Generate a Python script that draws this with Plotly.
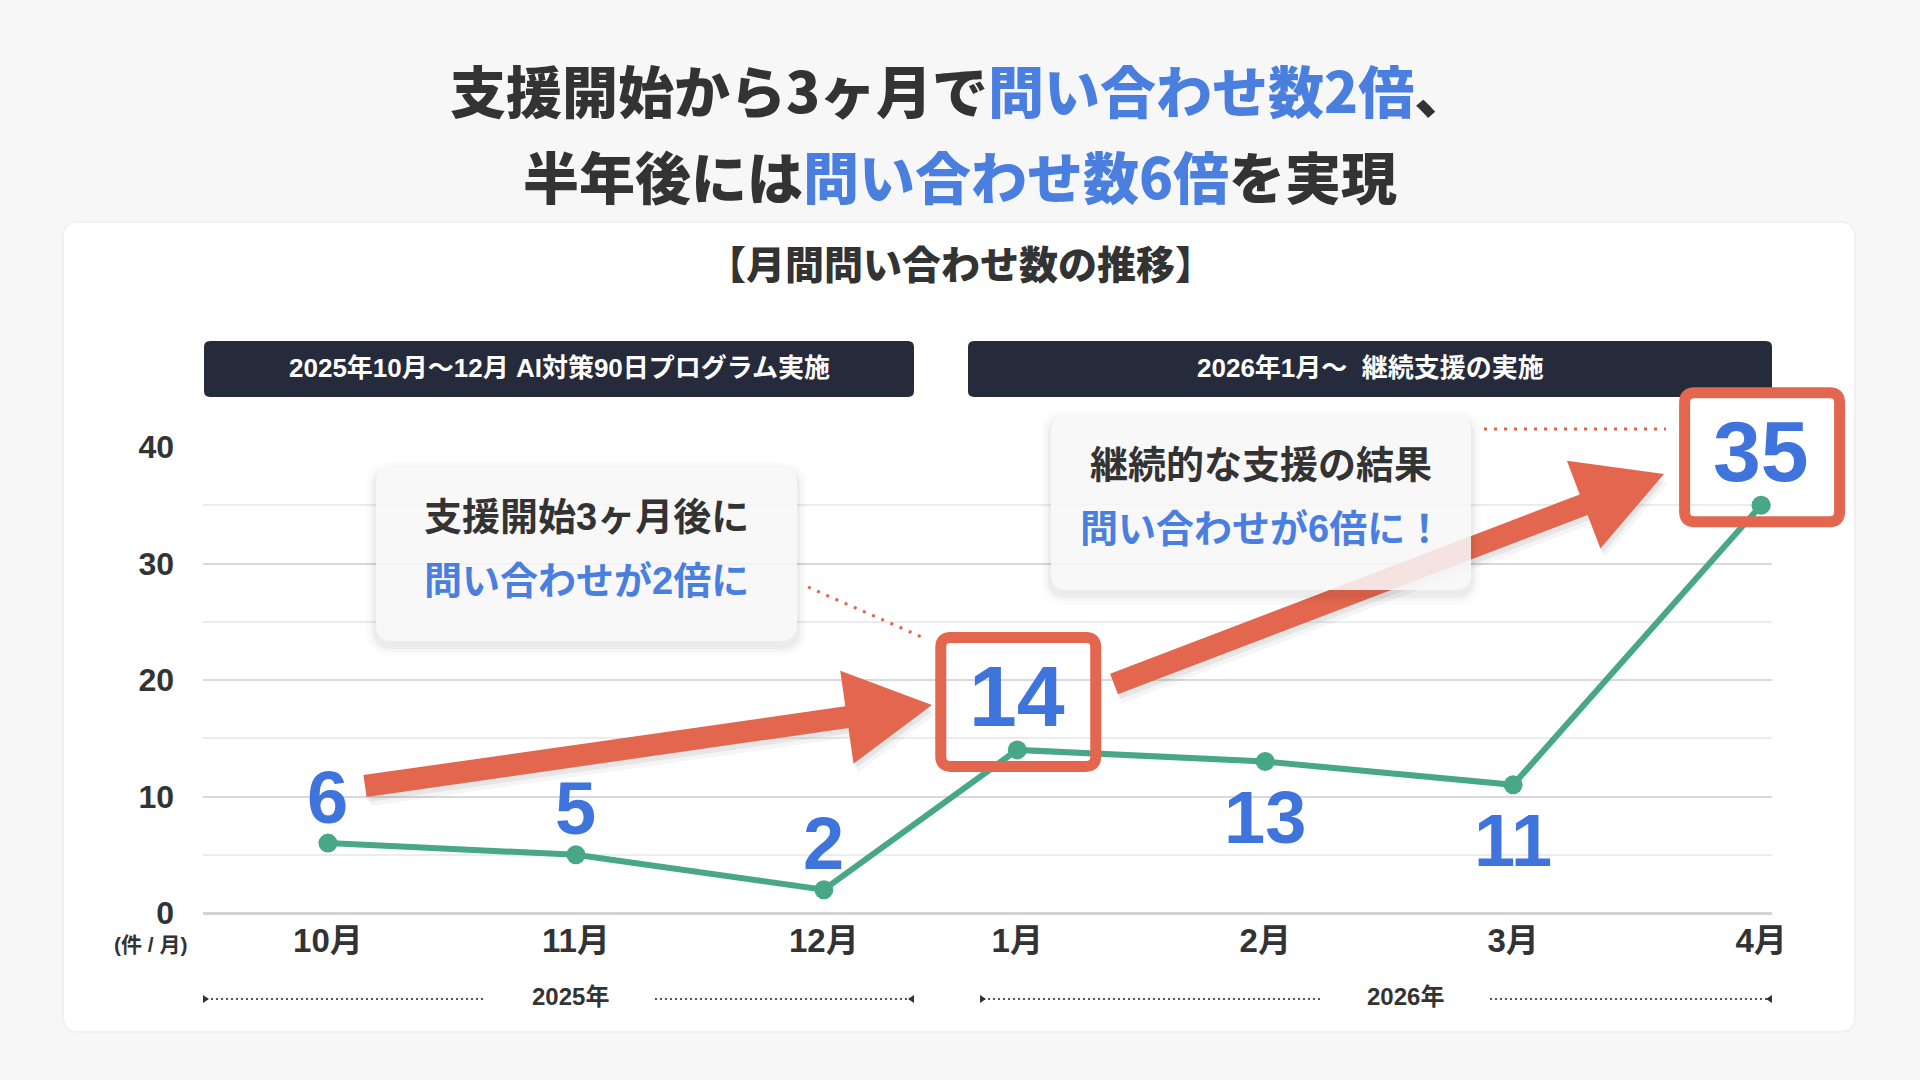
import math
import plotly.graph_objects as go

# ---------------- data ----------------
months = ["10月", "11月", "12月", "1月", "2月", "3月", "4月"]
years = [2025, 2025, 2025, 2026, 2026, 2026, 2026]
inquiries = [6, 5, 2, 14, 13, 11, 35]
y_tick_values = [0, 10, 20, 30, 40]
period_labels = ["2025年10月〜12月 AI対策90日プログラム実施", "2026年1月〜  継続支援の実施"]
year_labels = ["2025年", "2026年"]

# ---------------- layout constants ----------------
W, H = 1920, 1080
YEAR_GAP = -0.22
X_DOMAIN_PX = (203, 1772)
Y_DOMAIN_PX = (913, 447)
X_RANGE = (-0.504, 5.824)
Y_RANGE = (0, 40)

BG = "#f7f7f8"
DARK = "#333333"
BLUE = "#4a7fdf"
NUM_BLUE = "#3f74dc"
RED = "#e3674f"
GREEN = "#47a786"
NAVY = "#262b3b"
CJK = "Noto Sans CJK JP"
NUMF = "Liberation Sans, Noto Sans CJK JP"

xs = [i + (YEAR_GAP if y == 2026 else 0) for i, y in enumerate(years)]


def xpx(v):
    return X_DOMAIN_PX[0] + (v - X_RANGE[0]) / (X_RANGE[1] - X_RANGE[0]) * (X_DOMAIN_PX[1] - X_DOMAIN_PX[0])


def ypx(v):
    return Y_DOMAIN_PX[0] + (v - Y_RANGE[0]) / (Y_RANGE[1] - Y_RANGE[0]) * (Y_DOMAIN_PX[1] - Y_DOMAIN_PX[0])


def P(x, y):
    return f"{x / W:.5f},{1 - y / H:.5f}"


def rrect(x0, y0, x1, y1, r):
    return (f"M {P(x0 + r, y0)} L {P(x1 - r, y0)} Q {P(x1, y0)} {P(x1, y0 + r)} "
            f"L {P(x1, y1 - r)} Q {P(x1, y1)} {P(x1 - r, y1)} L {P(x0 + r, y1)} "
            f"Q {P(x0, y1)} {P(x0, y1 - r)} L {P(x0, y0 + r)} Q {P(x0, y0)} {P(x0 + r, y0)} Z")


def poly(pts):
    return "M " + " L ".join(P(x, y) for x, y in pts) + " Z"


def arrow_pts(x0, y0, x1, y1, shaft=22, head_len=86, head_w=94):
    dx, dy = x1 - x0, y1 - y0
    L = math.hypot(dx, dy)
    ux, uy = dx / L, dy / L
    px, py = -uy, ux
    bx, by = x1 - ux * head_len, y1 - uy * head_len
    s, h = shaft / 2, head_w / 2
    return [(x0 + px * s, y0 + py * s), (bx + px * s, by + py * s), (bx + px * h, by + py * h),
            (x1, y1), (bx - px * h, by - py * h), (bx - px * s, by - py * s), (x0 - px * s, y0 - py * s)]


fig = go.Figure()
fig.add_trace(go.Scatter(
    x=xs, y=inquiries, mode="lines+markers",
    line=dict(color=GREEN, width=6),
    marker=dict(color=GREEN, size=19),
    cliponaxis=False, hoverinfo="skip", showlegend=False,
))

shapes = []
annotations = []

# card
shapes.append(dict(type="path", layer="below",
                   path=rrect(62, 221, 1856, 1033, 16), fillcolor="rgba(0,0,0,0.025)", line=dict(width=0)))
shapes.append(dict(type="path", layer="below",
                   path=rrect(64, 223, 1854, 1031, 14), fillcolor="#ffffff", line=dict(width=0)))


def blue(t):
    return f'<span style="color:{BLUE}">{t}</span>'


# title
annotations.append(dict(x=960 / W, y=1 - 88 / H, text="支援開始から3ヶ月で" + blue("問い合わせ数2倍") + "、",
                        font=dict(family=CJK, size=56, color=DARK, weight=900)))
annotations.append(dict(x=960 / W, y=1 - 175 / H, text="半年後には" + blue("問い合わせ数6倍") + "を実現",
                        font=dict(family=CJK, size=56, color=DARK, weight=900)))
annotations.append(dict(x=960 / W, y=1 - 262 / H, text="【月間問い合わせ数の推移】",
                        font=dict(family=CJK, size=39, color=DARK, weight=900)))

# period banners
banners = [(204, 914), (968, 1772)]
for (bx0, bx1), lab in zip(banners, period_labels):
    shapes.append(dict(type="path", layer="above",
                       path=rrect(bx0, 341, bx1, 397, 6), fillcolor=NAVY, line=dict(width=0)))
    annotations.append(dict(x=(bx0 + bx1) / 2 / W, y=1 - 368 / H, text=f"<b>{lab}</b>",
                            font=dict(family=NUMF, size=26, color="#ffffff")))

# arrows (with faint shadow)
arrows = [((365, 786), (932, 705)), ((1114, 684), (1664, 474))]
for (a0, a1) in arrows:
    for off, alpha in [((2, 5), 0.06), ((4, 9), 0.04)]:
        pts = arrow_pts(a0[0] + off[0], a0[1] + off[1], a1[0] + off[0], a1[1] + off[1])
        shapes.append(dict(type="path", layer="above",
                           path=poly(pts), fillcolor=f"rgba(0,0,0,{alpha})", line=dict(width=0)))
    shapes.append(dict(type="path", layer="above",
                       path=poly(arrow_pts(a0[0], a0[1], a1[0], a1[1])), fillcolor=RED, line=dict(width=0)))

# dotted connectors
for (p0, p1) in [((808, 587), (924, 638)), ((1484, 429), (1666, 429))]:
    shapes.append(dict(type="line", layer="above",
                       x0=p0[0] / W, y0=1 - p0[1] / H, x1=p1[0] / W, y1=1 - p1[1] / H,
                       line=dict(color=RED, width=3, dash="3px,7px")))

# callouts
callouts = [((376, 467, 797, 641), ["支援開始3ヶ月後に", "問い合わせが2倍に"]),
            ((1051, 415, 1471, 590), ["継続的な支援の結果", "問い合わせが6倍に！"])]
for (cx0, cy0, cx1, cy1), lines in callouts:
    for g, alpha in [(10, 0.015), (6, 0.025), (3, 0.035)]:
        shapes.append(dict(type="path", layer="above",
                           path=rrect(cx0 - g, cy0 - g + 5, cx1 + g, cy1 + g + 5, 16 + g),
                           fillcolor=f"rgba(0,0,0,{alpha})", line=dict(width=0)))
    shapes.append(dict(type="path", layer="above",
                       path=rrect(cx0, cy0, cx1, cy1, 16), fillcolor="rgba(249,249,250,0.86)",
                       line=dict(width=0)))
    cxm = (cx0 + cx1) / 2
    annotations.append(dict(x=cxm / W, y=1 - (cy0 + 50) / H, text=f"<b>{lines[0]}</b>",
                            font=dict(family=NUMF, size=38, color=DARK)))
    annotations.append(dict(x=cxm / W, y=1 - (cy0 + 114) / H, text=f"<b>{lines[1]}</b>",
                            font=dict(family=NUMF, size=38, color=BLUE)))

# data labels
label_mode = ["above", "above", "above", "box", "below", "below", "box"]
for xv, v, mode in zip(xs, inquiries, label_mode):
    if mode == "box":
        cx, cy = xpx(xv) + 1, ypx(v) - 48
        hw, hh, sw = 83, 70, 11
        shapes.append(dict(type="path", layer="above",
                           path=rrect(cx - hw + sw / 2, cy - hh + sw / 2, cx + hw - sw / 2, cy + hh - sw / 2, 10),
                           fillcolor="rgba(0,0,0,0)", line=dict(color=RED, width=sw)))
        annotations.append(dict(x=xv, y=v, xref="x", yref="y", yshift=54, text=f"<b>{v}</b>",
                                font=dict(family=NUMF, size=86, color=NUM_BLUE)))
    else:
        shift = 46 if mode == "above" else -56
        annotations.append(dict(x=xv, y=v, xref="x", yref="y", yshift=shift, text=f"<b>{v}</b>",
                                font=dict(family=NUMF, size=74, color=NUM_BLUE)))

# unit label
annotations.append(dict(x=151 / W, y=1 - 944 / H, text="<b>(件 / 月)</b>",
                        font=dict(family=NUMF, size=21, color=DARK)))

# year brackets
year_groups = [(203, 914, 570), (980, 1772, 1405)]
for (gx0, gx1, cxm), lab in zip(year_groups, year_labels):
    half_gap = 85
    yb = 999
    for (s0, s1) in [(gx0 + 3, cxm - half_gap), (cxm + half_gap, gx1 - 3)]:
        shapes.append(dict(type="line", layer="above",
                           x0=s0 / W, y0=1 - yb / H, x1=s1 / W, y1=1 - yb / H,
                           line=dict(color="#555555", width=2, dash="2px,3px")))
    shapes.append(dict(type="path", layer="above",
                       path=poly([(gx0, yb - 4), (gx0 + 6, yb), (gx0, yb + 4)]), fillcolor="#333", line=dict(width=0)))
    shapes.append(dict(type="path", layer="above",
                       path=poly([(gx1, yb - 4), (gx1 - 6, yb), (gx1, yb + 4)]), fillcolor="#333", line=dict(width=0)))
    annotations.append(dict(x=cxm / W, y=1 - 996 / H, text=f"<b>{lab}</b>",
                            font=dict(family=NUMF, size=24, color=DARK)))

for s in shapes:
    s.setdefault("xref", "paper")
    s.setdefault("yref", "paper")
    fig.add_shape(**s)
for a in annotations:
    a.setdefault("xref", "paper")
    a.setdefault("yref", "paper")
    a.setdefault("showarrow", False)
    a.setdefault("xanchor", "center")
    a.setdefault("yanchor", "middle")
    fig.add_annotation(**a)

fig.update_layout(
    width=W, height=H, autosize=False,
    margin=dict(l=0, r=0, t=0, b=0, pad=0, autoexpand=False),
    paper_bgcolor=BG, plot_bgcolor="rgba(0,0,0,0)",
    showlegend=False,
    xaxis=dict(domain=[X_DOMAIN_PX[0] / W, X_DOMAIN_PX[1] / W], range=list(X_RANGE),
               tickvals=xs, ticktext=[f"<b>{m}</b>" for m in months],
               tickfont=dict(family=NUMF, size=33, color=DARK),
               showgrid=False, zeroline=False, showline=False, ticks="", ticklabelstandoff=5,
               automargin=False, fixedrange=True),
    yaxis=dict(domain=[1 - Y_DOMAIN_PX[0] / H, 1 - Y_DOMAIN_PX[1] / H], range=list(Y_RANGE),
               tickvals=y_tick_values, ticktext=[f"<b>{v}</b>" for v in y_tick_values],
               tickfont=dict(family=NUMF, size=32, color=DARK),
               showgrid=True, gridcolor="#d9d9d9", gridwidth=2,
               minor=dict(dtick=5, showgrid=True, gridcolor="#ececec", gridwidth=1.5),
               zeroline=True, zerolinecolor="#d4d4d4", zerolinewidth=3,
               showline=False, ticks="", ticklabelstandoff=28, automargin=False, fixedrange=True),
)

fig.write_html("out.html", config={"displayModeBar": False},
               post_script="document.body.style.margin='0';document.body.style.overflow='hidden';")
